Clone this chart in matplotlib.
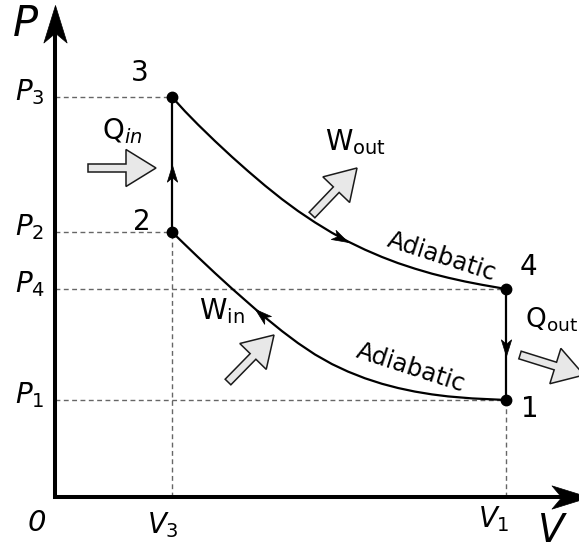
import numpy as np
import matplotlib
matplotlib.use("Agg")
from matplotlib import pyplot as plt
from matplotlib import rc
from matplotlib.path import Path
from matplotlib.markers import MarkerStyle
from matplotlib.transforms import Affine2D

rc('mathtext', fontset='dejavusans')

# state points (arbitrary units, measured from the origin)
V3 = 117
V1 = 451
P1 = 97
P4 = 208
P2 = 265
P3 = 400

# adiabatic expansion 3 -> 4
exp_V = [117, 130, 143, 160, 177, 193, 210, 227, 243, 260, 277, 293,
         310, 327, 343, 360, 377, 393, 410, 427, 451]
exp_P = [400, 385.7, 372.4, 355.9, 340.1, 325.9, 311.4, 297.8, 286.0, 274.6, 264.2, 255.5,
         247.3, 240.0, 233.9, 228.3, 223.3, 219.3, 215.5, 212.2, 208]
# adiabatic compression 1 -> 2 (listed from 2 towards 1)
comp_V = [117, 130, 143, 160, 177, 200, 210, 227, 243, 260, 277, 293,
          310, 327, 343, 360, 377, 393, 417, 451]
comp_P = [265, 252.4, 239.9, 223.9, 208.4, 188.2, 179.7, 165.9, 153.9, 142.5, 132.9, 125.4,
          118.7, 113.2, 109.0, 105.4, 102.6, 100.6, 98.6, 97]

state_V = [V1, V3, V3, V1]
state_P = [P1, P2, P3, P4]
state_labels = ['1', '2', '3', '4']

# notched arrow head, tip at the origin
HEAD = Path([(0, 0), (-1, 0.31), (-0.74, 0), (-1, -0.31), (0, 0)],
            [Path.MOVETO, Path.LINETO, Path.LINETO, Path.LINETO, Path.CLOSEPOLY])


def head(ax, x, y, angle, size):
    m = MarkerStyle(HEAD, transform=Affine2D().rotate_deg(angle))
    ax.plot(x, y, marker=m, markersize=size, color='black', mew=0.5,
            linestyle='none', zorder=5)


def curve_head(ax, xs, ys, i, reverse=False):
    dx = xs[i + 1] - xs[i - 1]
    dy = ys[i + 1] - ys[i - 1]
    angle = np.degrees(np.arctan2(dy, dx))
    if reverse:
        angle += 180
    head(ax, xs[i], ys[i], angle, 24)


def block_arrow(ax, x0, y0, x1, y1):
    ax.arrow(x0, y0, x1 - x0, y1 - y0, width=8, head_width=37, head_length=30,
             length_includes_head=True, fc='#e8e8e8', ec='#1a1a1a', lw=1.1, zorder=3)


def main():
    fig = plt.figure(figsize=(5.79, 5.52), dpi=100)
    ax = fig.add_axes([0, 0, 1, 1])
    ax.set_xlim(-55, 524)
    ax.set_ylim(-55, 497)
    ax.axis('off')

    # axes with arrows
    ax.plot([0, 0, 512], [470, 0, 0], color='black', lw=2.9,
            solid_joinstyle='miter', solid_capstyle='butt', zorder=4)
    head(ax, 0, 492, 90, 54)
    head(ax, 534, 0, 0, 54)

    # dashed guides
    dash = dict(color='#666666', lw=1.0, linestyle=(0, (3.5, 2.5)), zorder=1)
    ax.plot([0, V3], [P3, P3], **dash)
    ax.plot([0, V3], [P2, P2], **dash)
    ax.plot([0, V1], [P4, P4], **dash)
    ax.plot([0, V1], [P1, P1], **dash)
    ax.plot([V3, V3], [0, P2], **dash)
    ax.plot([V1, V1], [0, P1], **dash)

    # the cycle
    cyc = dict(color='black', lw=1.6, zorder=4, solid_joinstyle='round')
    ax.plot(exp_V, exp_P, **cyc)
    ax.plot(comp_V, comp_P, **cyc)
    ax.plot([V3, V3], [P2, P3], **cyc)
    ax.plot([V1, V1], [P4, P1], **cyc)
    ax.plot(state_V, state_P, 'o', color='black', markersize=7.5, zorder=6)

    head(ax, V3, P2 + 0.5 * (P3 - P2), 90, 24)
    head(ax, V1, P4 - 0.6 * (P4 - P1), -90, 24)
    curve_head(ax, exp_V, exp_P, 11)
    curve_head(ax, comp_V, comp_P, 5, reverse=True)

    # heat and work arrows
    block_arrow(ax, V3 - 84, P2 + 64, V3 - 16, P2 + 64)
    block_arrow(ax, 257, 282, 302, 329)
    block_arrow(ax, 173, 115, 219, 162)
    block_arrow(ax, V1 + 14, 142, V1 + 78, 122)

    # labels
    ax.text(-30, 473, 'P', fontsize=30, style='italic', ha='center', va='center')
    ax.text(496, -34, 'V', fontsize=28, style='italic', ha='center', va='center')
    ax.text(-18, -26, '0', fontsize=21, style='italic', ha='center', va='center')

    for p, s in zip([P3, P2, P4, P1], ['3', '2', '4', '1']):
        ax.text(-25, p + 5, r'$\mathit{P_%s}$' % s, fontsize=20, ha='center', va='center')
    ax.text(V3 - 9, -28, r'$\mathit{V_3}$', fontsize=20, ha='center', va='center')
    ax.text(V1 - 12, -22, r'$\mathit{V_1}$', fontsize=20, ha='center', va='center')

    offsets = [(24, -9), (-30, 10), (-32, 24), (22, 22)]
    for v, p, lab, (dx, dy) in zip(state_V, state_P, state_labels, offsets):
        ax.text(v + dx, p + dy, lab, fontsize=20, ha='center', va='center')

    ax.text(V3 - 50, P3 - 34, r'$\mathrm{Q}_{\mathit{in}}$', fontsize=20, ha='center', va='center')
    ax.text(301, 355, r'$\mathrm{W}_{\mathrm{out}}$', fontsize=20, ha='center', va='center')
    ax.text(167, 186, r'$\mathrm{W}_{\mathrm{in}}$', fontsize=20, ha='center', va='center')
    ax.text(V1 + 19, 177, r'$\mathrm{Q}_{\mathrm{out}}$', fontsize=19, ha='left', va='center')

    ax.text(387, 240, 'Adiabatic', fontsize=17.5, rotation=-18, ha='center', va='center',
            rotation_mode='anchor')
    ax.text(356, 129, 'Adiabatic', fontsize=17.5, rotation=-18, ha='center', va='center',
            rotation_mode='anchor')

    fig.savefig('out.png', dpi=100)


if __name__ == "__main__":
    main()
